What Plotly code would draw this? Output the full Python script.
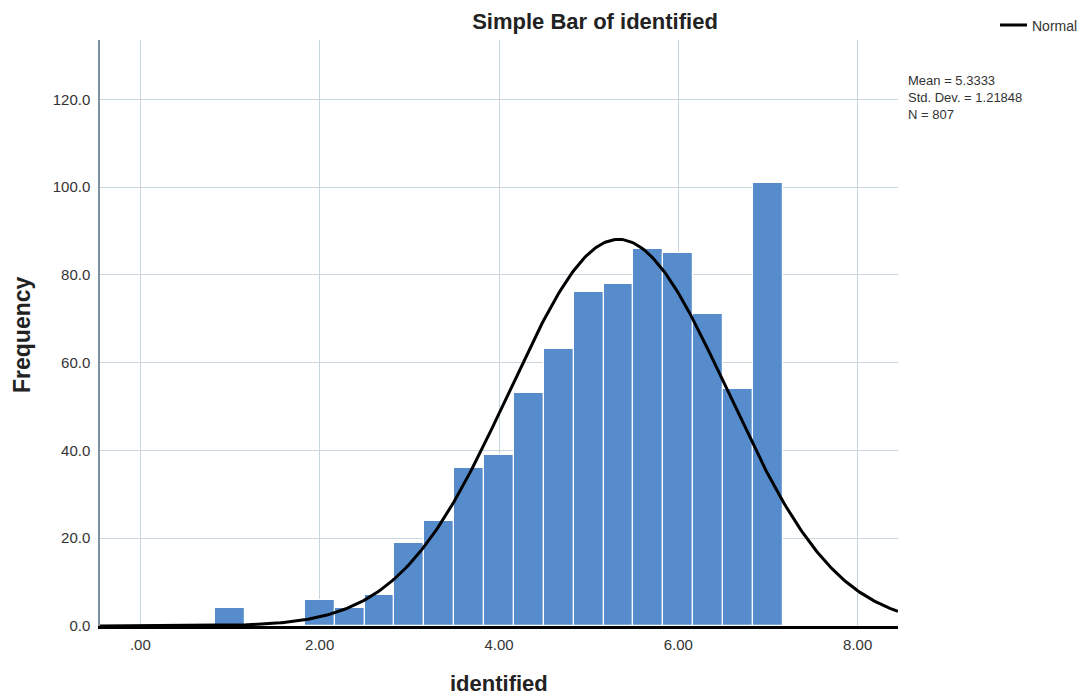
import numpy as np
import plotly.graph_objects as go

# ---- data ----
bin_centers = [1.0, 2.0, 7/3, 8/3, 3.0, 10/3, 11/3, 4.0, 13/3, 14/3, 5.0, 16/3, 17/3, 6.0, 19/3, 20/3, 7.0]
frequencies = [4, 6, 4, 7, 19, 24, 36, 39, 53, 63, 76, 78, 86, 85, 71, 54, 101]
bin_width = 1/3
mean_val = 5.3333
std_dev = 1.21848
n_obs = 807
x_tick_vals = [0, 2, 4, 6, 8]
x_tick_text = [".00", "2.00", "4.00", "6.00", "8.00"]
y_tick_vals = [0, 20, 40, 60, 80, 100, 120]
y_tick_text = ["0.0", "20.0", "40.0", "60.0", "80.0", "100.0", "120.0"]
stats_lines = ["Mean = 5.3333", "Std. Dev. = 1.21848", "N = 807"]

x_min, x_max = -0.45, 8.45
y_max = 133.5

# plot-area geometry in pixels (for placing outside texts)
L, R, T, B = 100, 898, 40, 626
W, H = R - L, B - T
def px(x):
    return (x - L) / W
def py(y):
    return (B - y) / H

# fitted normal curve from the displayed statistics
xc = np.linspace(x_min, x_max, 400)
yc = n_obs * bin_width / (std_dev * np.sqrt(2 * np.pi)) * np.exp(-0.5 * ((xc - mean_val) / std_dev) ** 2)

fig = go.Figure()
fig.add_trace(go.Bar(
    x=bin_centers, y=frequencies, width=bin_width,
    marker=dict(color="#568ccc", line=dict(color="white", width=1.2)),
    showlegend=False,
))
fig.add_trace(go.Scatter(
    x=xc, y=yc, mode="lines", name="Normal",
    line=dict(color="black", width=3), showlegend=False,
))

grid = "#c9d5dd"
fig.update_layout(
    width=1090, height=697,
    margin=dict(l=L, r=1090 - R, t=T, b=697 - B, autoexpand=False),
    paper_bgcolor="white", plot_bgcolor="white",
    font=dict(family="Liberation Sans, Arial, sans-serif", color="#333333", size=12),
    title=dict(text="<b>Simple Bar of identified</b>", xref="container", x=595 / 1090, xanchor="center",
               yref="container", y=1 - 21 / 697, yanchor="middle", font=dict(size=22, color="#222222")),
    bargap=0,
    showlegend=False,
    xaxis=dict(range=[x_min, x_max], tickvals=x_tick_vals, ticktext=x_tick_text,
               showgrid=True, gridcolor=grid, gridwidth=1, automargin=False,
               showline=True, linecolor="black", linewidth=2.5,
               zeroline=False, ticks="", ticklabelstandoff=3,
               tickfont=dict(size=15, color="#333333")),
    yaxis=dict(range=[0, y_max], tickvals=y_tick_vals, ticktext=y_tick_text,
               showgrid=True, gridcolor=grid, gridwidth=1, automargin=False,
               showline=True, linecolor="#7d909c", linewidth=1.5,
               zeroline=False, ticks="", ticklabelstandoff=5,
               tickfont=dict(size=15, color="#333333")),
)

# axis titles
fig.add_annotation(xref="paper", yref="paper", x=px(499), y=py(683), xanchor="center", yanchor="middle",
                   text="<b>identified</b>", showarrow=False, font=dict(size=22, color="#222222"))
fig.add_annotation(xref="paper", yref="paper", x=px(22), y=py(335), xanchor="center", yanchor="middle",
                   text="<b>Frequency</b>", textangle=-90, showarrow=False, font=dict(size=23, color="#222222"))

# statistics box
fig.add_annotation(xref="paper", yref="paper", x=px(906), y=py(71), xanchor="left", yanchor="top",
                   align="left", text="<br>".join(stats_lines), showarrow=False,
                   font=dict(size=13, color="#333333"))

# legend (line sample + label)
fig.add_shape(type="line", xref="paper", yref="paper", x0=px(1000), x1=px(1027), y0=py(25), y1=py(25),
              line=dict(color="black", width=3))
fig.add_annotation(xref="paper", yref="paper", x=px(1030), y=py(26), xanchor="left", yanchor="middle",
                   text="Normal", showarrow=False, font=dict(size=14, color="#333333"))

fig.write_html("out.html", config={"displayModeBar": False},
               post_script="document.body.style.margin='0px';document.body.style.padding='0px';")
